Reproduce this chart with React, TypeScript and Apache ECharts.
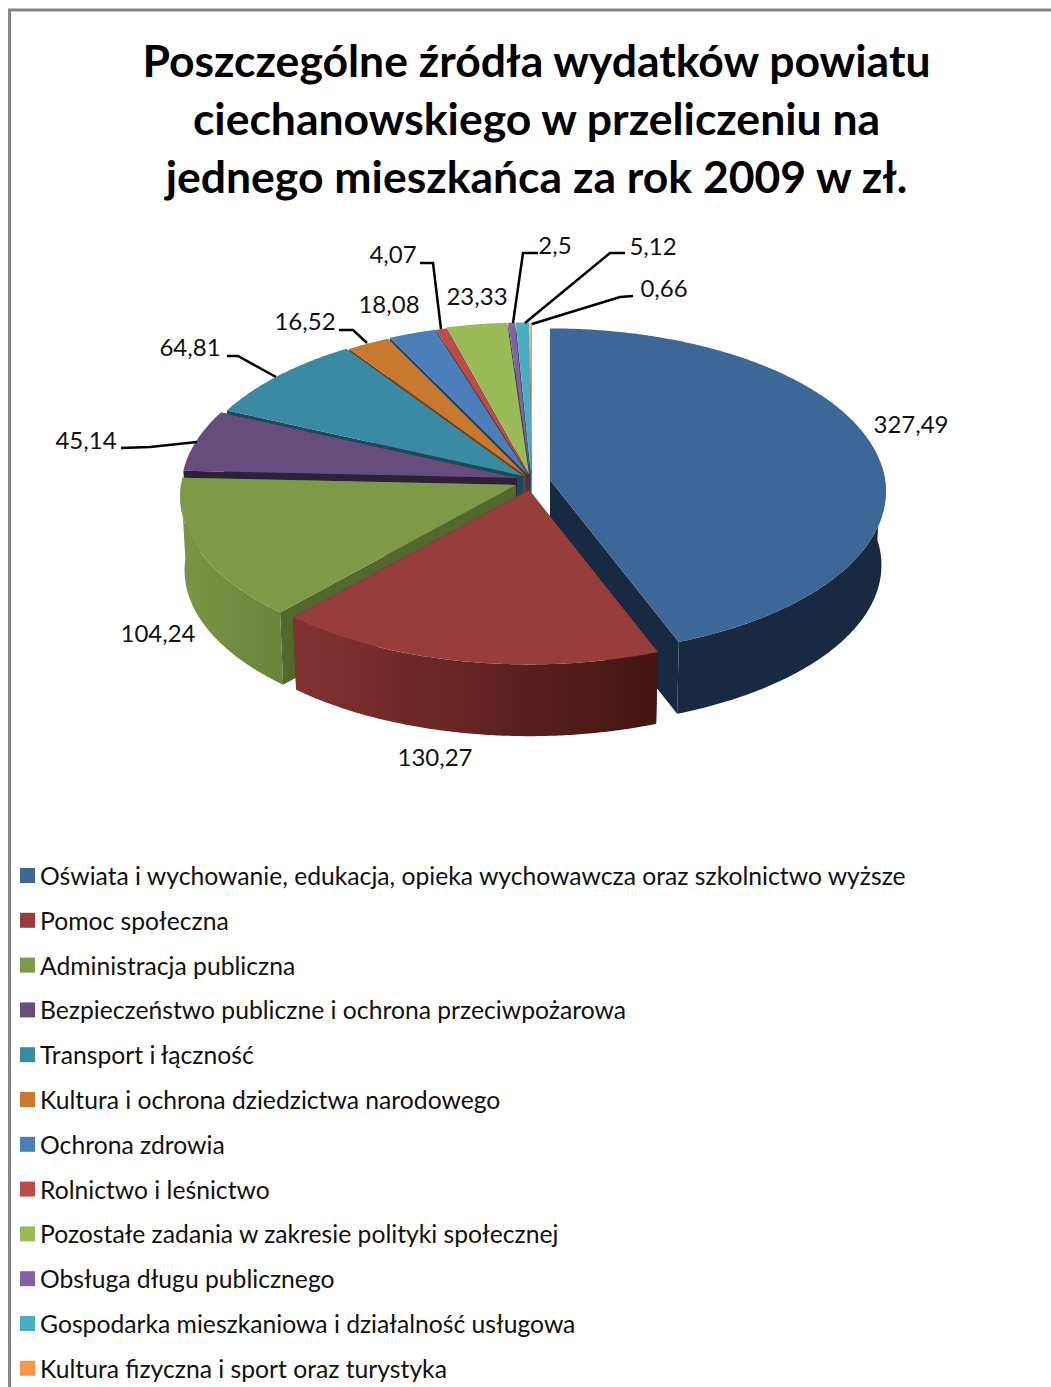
import React, { useEffect, useRef } from "react";
import * as echarts from "echarts";

const categories = [
  "Oświata i wychowanie, edukacja, opieka wychowawcza oraz szkolnictwo wyższe",
  "Pomoc społeczna",
  "Administracja publiczna",
  "Bezpieczeństwo publiczne i ochrona przeciwpożarowa",
  "Transport i łączność",
  "Kultura i ochrona dziedzictwa narodowego",
  "Ochrona zdrowia",
  "Rolnictwo i leśnictwo",
  "Pozostałe zadania w zakresie polityki społecznej",
  "Obsługa długu publicznego",
  "Gospodarka mieszkaniowa i działalność usługowa",
  "Kultura fizyczna i sport oraz turystyka",
];
const values = [327.49, 130.27, 104.24, 45.14, 64.81, 16.52, 18.08, 4.07, 23.33, 2.5, 5.12, 0.66];
const titleText =
  "Poszczególne źródła wydatków powiatu\nciechanowskiego w przeliczeniu na\njednego mieszkańca za rok 2009 w zł.";

// Styling and layout tables (not data)
const topColors = ["#3d6796", "#973d3b", "#7e9a48", "#674d7e", "#3b8aa3", "#c8792f", "#4c7eb9", "#bd4c49", "#9bbb59", "#8064a2", "#4bacc6", "#f79646"];
const wallColors = ["#182a42", "#5a2322", "#54672d", "#2c203a", "#1c4a58", "#6d3f14", "#24405f", "#6d2928", "#566a2f", "#3f3052", "#22606f", "#8a5020"];
const sideColors: [string, string][] = [
  ["#182a42", "#182a42"], ["#823331", "#431513"], ["#7b9546", "#6a8539"], ["#3a2d4d", "#3a2d4d"],
  ["#245565", "#245565"], ["#7a4518", "#7a4518"], ["#2c4d70", "#2c4d70"], ["#7a2e2c", "#7a2e2c"],
  ["#66793a", "#66793a"], ["#4c3a62", "#4c3a62"], ["#2c6a7a", "#2c6a7a"], ["#a66a30", "#a66a30"],
];
const apexes: [number, number][] = [
  [550, 480], [529, 490], [516, 485], [517, 478], [523, 476], [526, 476],
  [528, 475], [529, 475], [529, 474], [530, 474], [531, 474], [532, 474],
];
const RX = 335, RY = 163, PERSP = 0.07, DEPTH = 74, BOTTOM_SCALE = 0.987;
const drawOrder = [11, 10, 9, 8, 7, 6, 5, 4, 3, 0, 2, 1];

const labelCenters: [number, number][] = [
  [911, 423], [435, 756], [158, 632], [86, 439], [190, 346], [305, 320],
  [389, 303], [393, 253], [477, 295], [555, 244], [653, 245], [664, 287],
];
const leaders: [number, number][][] = [
  [[121, 448], [150, 447], [197, 442]],
  [[227, 356], [238, 356], [276, 377]],
  [[339, 330], [353, 330], [367, 343]],
  [[420, 263], [433, 263], [441, 329]],
  [[538, 253], [523, 253], [513, 323]],
  [[625, 253], [610, 253], [525, 323]],
  [[633, 296], [620, 297], [532, 324]],
];

const total = values.reduce((a, b) => a + b, 0);
const startAngles = values.map((_, i) => (values.slice(0, i).reduce((a, b) => a + b, 0) / total) * 360);

function project(i: number, deg: number, bottom: boolean): [number, number] {
  const t = (deg * Math.PI) / 180;
  const u = Math.sin(t);
  const v = -Math.cos(t);
  const s = (1 + PERSP * v) * (bottom ? BOTTOM_SCALE : 1);
  const [cx, cy] = apexes[i];
  return [cx + RX * u * s, cy + RY * v * s + (bottom ? DEPTH : 0)];
}
function arc(i: number, a: number, b: number, bottom: boolean): [number, number][] {
  const n = Math.max(2, Math.ceil((b - a) * 2));
  const out: [number, number][] = [];
  for (let k = 0; k <= n; k++) out.push(project(i, a + ((b - a) * k) / n, bottom));
  return out;
}

function makeRenderItem(i: number) {
  return (_params: any, api: any) => {
    const sweep = (api.value(0) / total) * 360;
    const a = startAngles[i];
    const b = a + sweep;
    const [cx, cy] = apexes[i];
    const children: any[] = [];
    const wall = (deg: number) => {
      const tipT = project(i, deg, false);
      const tipB = project(i, deg, true);
      children.push({
        type: "polygon",
        shape: { points: [[cx, cy], tipT, tipB, [cx, cy + DEPTH]] },
        style: { fill: wallColors[i] },
      });
    };
    wall(a);
    wall(b);
    const sa = Math.max(a, 85);
    const sb = Math.min(b, 270);
    if (sb > sa) {
      children.push({
        type: "polygon",
        shape: { points: [...arc(i, sa, sb, false), ...arc(i, sa, sb, true).reverse()] },
        style: {
          fill: new echarts.graphic.LinearGradient(0, 0, 1, 0, [
            { offset: 0, color: sideColors[i][0] },
            { offset: 1, color: sideColors[i][1] },
          ]),
        },
      });
    }
    children.push({
      type: "polygon",
      shape: { points: [[cx, cy], ...arc(i, a, b, false)] },
      style: { fill: topColors[i] },
    });
    return { type: "group", children };
  };
}

const FONT = "Lato";

export default function App() {
  const ref = useRef<HTMLDivElement>(null);
  useEffect(() => {
    const chart = echarts.init(ref.current!, undefined, { renderer: "svg" });
    const graphics: any[] = [
      {
        type: "polyline",
        shape: { points: [[1051, 10], [9.5, 10], [9.5, 1387]] },
        style: { stroke: "#868686", lineWidth: 3, fill: "none" },
        silent: true,
      },
      ...leaders.map((pts) => ({
        type: "polyline",
        shape: { points: pts },
        style: { stroke: "#000", lineWidth: 2.5, fill: "none" },
        z: 50,
        silent: true,
      })),
      ...values.map((v, i) => ({
        type: "text",
        x: labelCenters[i][0],
        y: labelCenters[i][1],
        style: {
          text: String(v).replace(".", ","),
          fill: "#111",
          font: `24px ${FONT}`,
          align: "center",
          verticalAlign: "middle",
        },
        z: 51,
        silent: true,
      })),
    ];
    chart.setOption({
      animation: false,
      title: {
        text: titleText,
        left: 531.5,
        top: 25,
        textAlign: "center",
        textStyle: { fontFamily: FONT, fontWeight: "bold", fontSize: 44.5, lineHeight: 58, color: "#000" },
      },
      legend: {
        orient: "vertical",
        left: 15,
        top: 858,
        height: 600,
        data: categories,
        icon: "rect",
        itemWidth: 15,
        itemHeight: 15,
        itemGap: 19.8,
        selectedMode: false,
        textStyle: { fontFamily: FONT, fontSize: 24.7, lineHeight: 25, color: "#111" },
      },
      graphic: graphics,
      series: drawOrder.map((i) => ({
        type: "custom",
        name: categories[i],
        coordinateSystem: "none",
        silent: true,
        itemStyle: { color: topColors[i] },
        data: [[values[i]]],
        renderItem: makeRenderItem(i),
      })),
    });
    return () => chart.dispose();
  }, []);
  return <div ref={ref} style={{ position: "absolute", left: 0, top: 0, width: 1051, height: 1387, background: "#fff" }} />;
}
